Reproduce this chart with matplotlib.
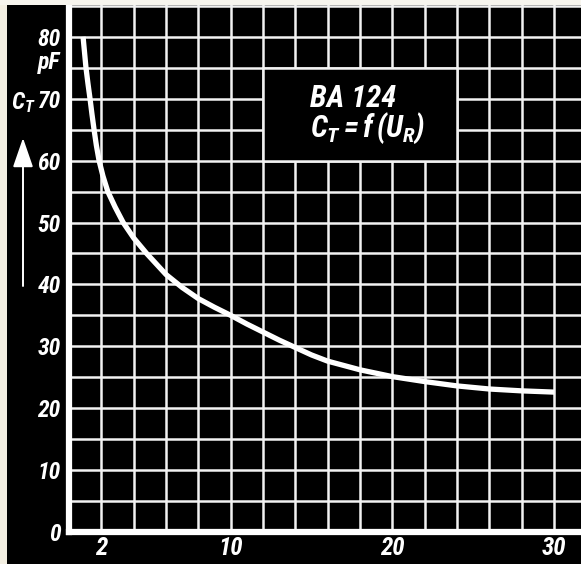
import matplotlib
matplotlib.use("Agg")
import matplotlib.pyplot as plt
from matplotlib.patches import Rectangle
import numpy as np

# BA 124 capacitance vs. reverse voltage
u_r = [0.87, 0.96, 1.05, 1.17, 1.3, 1.42, 1.55, 1.69, 1.86, 2.1, 2.4, 2.85,
       3.35, 4.0, 4.8, 6.0, 7.0, 8.0, 9.0, 10.0, 11.0, 12.0, 13.0, 14.0,
       15.0, 16.0, 18.0, 20.0, 22.0, 24.0, 26.0, 28.0, 30.0]
c_t = [80, 77.5, 75, 72.5, 70, 67.5, 65, 62.5, 60, 57.5, 55, 52.5,
       50, 47.5, 45, 41.6, 39.5, 37.7, 36.3, 35.0, 33.6, 32.3, 31.0, 29.8,
       28.6, 27.6, 26.2, 25.1, 24.3, 23.6, 23.1, 22.8, 22.6]

x_labels = [2, 10, 20, 30]
y_labels = [0, 10, 20, 30, 40, 50, 60, 70, 80]

FONT = 'Roboto Condensed'
plt.rcParams['mathtext.fontset'] = 'custom'
plt.rcParams['mathtext.it'] = FONT + ':italic:bold'
plt.rcParams['mathtext.rm'] = FONT + ':italic:bold'
plt.rcParams['mathtext.bf'] = FONT + ':italic:bold'

W, H = 581, 564
fig = plt.figure(figsize=(W / 100, H / 100), dpi=100, facecolor='black')

def px(x, y):
    # pixel (from top-left) -> figure fraction
    return x / W, 1 - y / H

# paper border strips on the left and top
fig.patches.append(Rectangle((0, 0), 7 / W, 1, transform=fig.transFigure,
                             facecolor='#f3efe2', edgecolor='none'))
fig.patches.append(Rectangle((0, 1 - 5 / H), 1, 5 / H, transform=fig.transFigure,
                             facecolor='#f7f5ee', edgecolor='none'))

ax = fig.add_axes([69 / W, 1 - 532 / H, (W - 69) / W, (532 - 5) / H])
ax.set_facecolor('black')
ax.set_xlim(0, 512 / 16.17)
ax.set_ylim(0, 527 / 6.19)

# grid: every 2 V and every 5 pF
grid_col = '#f2f2f2'
for gx in np.arange(2, 32, 2):
    ax.axvline(gx, color=grid_col, linewidth=1.8, zorder=0.5)
for gy in np.arange(5, 90, 5):
    ax.axhline(gy, color=grid_col, linewidth=1.8, zorder=0.5)
ax.tick_params(which='both', length=0)

ax.set_xticks(x_labels)
ax.set_xticklabels([str(v) for v in x_labels])
ax.set_yticks(y_labels)
ax.set_yticklabels([str(v) for v in y_labels])
ax.tick_params(axis='x', pad=3, labelsize=18, labelcolor='white')
ax.tick_params(axis='y', pad=6, labelsize=17, labelcolor='white')
for lab in ax.get_xticklabels() + ax.get_yticklabels():
    lab.set_fontfamily(FONT)
    lab.set_fontweight('bold')
    lab.set_fontstyle('italic')

for side in ['top', 'right']:
    ax.spines[side].set_visible(False)
for side in ['left', 'bottom']:
    ax.spines[side].set_color('white')
    ax.spines[side].set_linewidth(4.5)
    ax.spines[side].set_capstyle('projecting')
    ax.spines[side].set_zorder(2.5)

# curve
ax.plot(u_r, c_t, color='white', linewidth=3.8, solid_capstyle='butt',
        solid_joinstyle='round', zorder=3)

# title box
ax.add_patch(Rectangle((12, 60), 12, 15, facecolor='black', edgecolor=grid_col,
                       linewidth=1.8, zorder=1))
ax.text(14.9, 68.7, 'BA 124', color='white', fontsize=22, family=FONT,
        weight='bold', style='italic', ha='left', va='baseline', zorder=4)
ax.text(14.9, 63.9, r'$C_T = f\,(U_R)$', color='white', fontsize=22,
        ha='left', va='baseline', zorder=4)

# axis unit and quantity
fig.text(*px(60, 63), 'pF', color='white', fontsize=17, family=FONT,
         weight='bold', style='italic', ha='right', va='center')
fig.text(*px(11, 103), r'$C_T$', color='white', fontsize=17, ha='left', va='center')
ax.annotate('', xy=(23, H - 138), xytext=(23, H - 286), xycoords='figure pixels',
            textcoords='figure pixels',
            arrowprops=dict(arrowstyle='-|>,head_length=1.3,head_width=0.45',
                            mutation_scale=14, color='white', lw=1.4,
                            shrinkA=0, shrinkB=0))

fig.savefig('out.png', dpi=100, facecolor='black')
